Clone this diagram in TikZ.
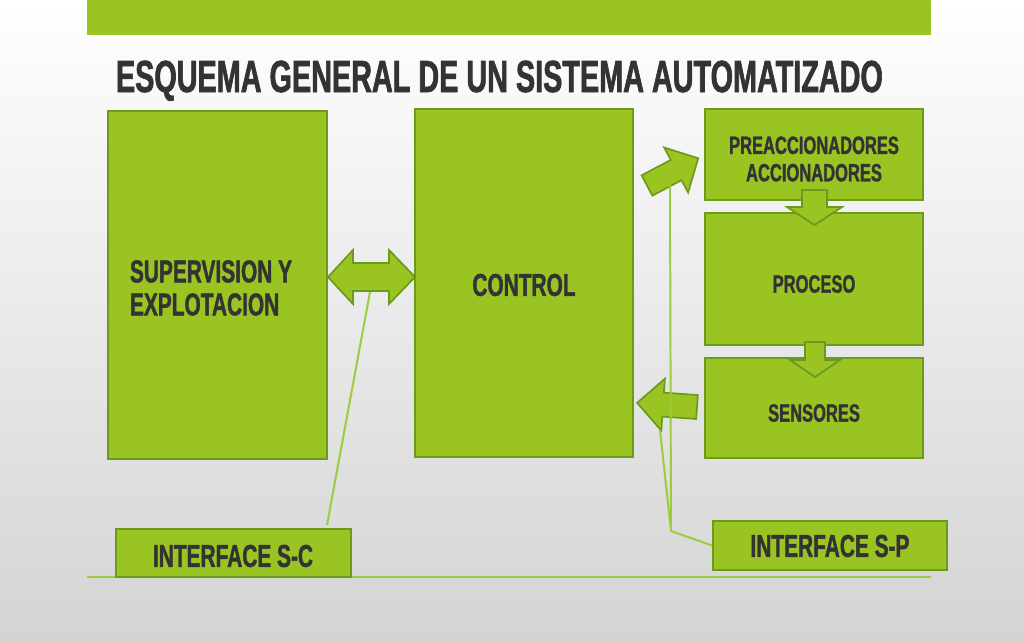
\documentclass[tikz,border=0pt]{standalone}
\usepackage{fontspec}
\usetikzlibrary{fit}
\newfontfamily\condfont[FakeStretch=0.66, FakeBold=1.2]{Liberation Sans}
\newfontfamily\titlefont[FakeStretch=0.64, FakeBold=1.4]{Liberation Sans}
\definecolor{boxgreen}{HTML}{99C422}
\definecolor{boxedge}{HTML}{6B9A1C}
\definecolor{wiregreen}{HTML}{9CCB3B}
\definecolor{ink}{HTML}{333333}
\newcommand{\greenarrow}[6]{%
  \begin{scope}[shift={(#1)}, rotate=#2]
    \draw[arrowshape] (0,-#4) -- ({#3-#6},-#4) -- ({#3-#6},-#5) -- (#3,0)
      -- ({#3-#6},#5) -- ({#3-#6},#4) -- (0,#4) -- cycle;
  \end{scope}}
\begin{document}
\begin{tikzpicture}[x=0.025cm, y=-0.025cm,
    box/.style={draw=boxedge, fill=boxgreen, line width=1.4pt, inner sep=0pt},
    boxtext/.style={text=ink, align=center, font=\condfont\bfseries\fontsize{17.8}{19.5}\selectfont},
    bigtext/.style={text=ink, font=\condfont\bfseries\fontsize{22.5}{23.5}\selectfont},
    arrowshape/.style={draw=boxedge, fill=boxgreen, line width=1.2pt, line join=miter},
    wire/.style={draw=wiregreen, line width=1.4pt}]
  \useasboundingbox (0,0) rectangle (1024,640);
  \shade[top color=white, bottom color=black!17] (0,0) rectangle (1024,640);
  \fill[boxgreen] (87,0) rectangle (931,35);
  \draw[wiregreen, line width=2pt] (87,577) -- (931,577);

  % title
  \node[anchor=base west, text=ink, font=\titlefont\bfseries\fontsize{32}{34}\selectfont] (title) at (111,92) {ESQUEMA GENERAL DE UN SISTEMA AUTOMATIZADO};

  % blocks
  \node[box, fit={(108,111) (327,459)}] (super) {};
  \node[box, fit={(415,109) (633,457)}] (control) {};
  \node[box, fit={(705,109) (923,200)}] (preacc) {};
  \node[box, fit={(705,213) (923,345)}] (proceso) {};
  \node[box, fit={(705,358) (923,458)}] (sensores) {};
  \node[box, fit={(116,529) (351,577)}] (isc) {};
  \node[box, fit={(713,521) (947,570)}] (isp) {};

  \node[bigtext, anchor=west, align=left] (super text) at (125,288) {SUPERVISION Y\\EXPLOTACION};
  \node[bigtext] (control text) at (524,285) {CONTROL};
  \node[boxtext] (preacc text) at (814,159) {PREACCIONADORES\\ACCIONADORES};
  \node[boxtext] (proceso text) at (814,284) {PROCESO};
  \node[boxtext] (sensores text) at (814,413) {SENSORES};
  \node[bigtext] (isc text) at (233,556) {INTERFACE S-C};
  \node[bigtext] (isp text) at (830,546) {INTERFACE S-P};

  % arrows
  \draw[arrowshape] (328,277) -- (353,250) -- (353,263) -- (389,263) -- (389,250) -- (415,277)
    -- (389,304) -- (389,291) -- (353,291) -- (353,304) -- cycle;
  \greenarrow{814.5,190}{-90}{35}{12.5}{27.5}{18}
  \greenarrow{815,342}{-90}{35}{10}{25}{17}
  \greenarrow{647,185.5}{28}{58}{11.5}{25.5}{25}
  \greenarrow{697,407}{176}{60}{12}{26}{26}

  % interfaces
  \coordinate (sc top) at (370,292);
  \coordinate (sc foot) at (327,525);
  \draw[wire] (sc top) -- (sc foot);
  \coordinate (sp knee) at (671,531);
  \coordinate (sp up) at (670,185);
  \coordinate (sp low) at (660,430);
  \draw[wire] (isp.west) -- (sp knee) -- (sp up);
  \draw[wire] (sp knee) -- (sp low);
\end{tikzpicture}
\end{document}
